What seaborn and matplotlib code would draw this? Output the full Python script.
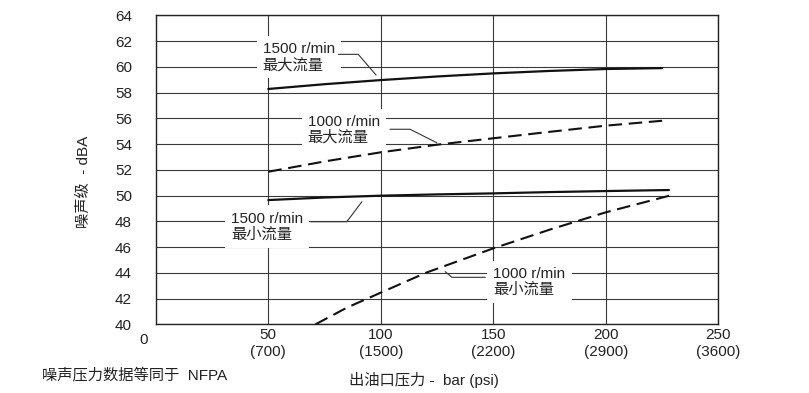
import numpy as np
import pandas as pd
import matplotlib
matplotlib.use('Agg')
import matplotlib.pyplot as plt
import seaborn as sns

# pressure (bar) and noise level (dBA)
x_1500_max = [50, 75, 100, 125, 150, 175, 200, 225]
y_1500_max = [58.28, 58.65, 58.97, 59.25, 59.49, 59.68, 59.83, 59.90]
x_1000_max = [50, 75, 100, 125, 150, 175, 200, 225]
y_1000_max = [51.85, 52.65, 53.36, 53.95, 54.45, 54.95, 55.43, 55.81]
x_1500_min = [50, 75, 100, 125, 150, 175, 200, 228]
y_1500_min = [49.65, 49.85, 49.99, 50.09, 50.17, 50.27, 50.35, 50.43]
x_1000_min = [71, 85, 100, 120, 150, 175, 200, 230]
y_1000_min = [40.0, 41.3, 42.46, 44.0, 45.9, 47.35, 48.7, 50.07]

xticks = [50, 100, 150, 200, 250]
xtick_labels = ['50\n(700)', '100\n(1500)', '150\n(2200)', '200\n(2900)', '250\n(3600)']
yticks = list(range(40, 65, 2))

sns.set_style('white')
plt.rcParams['font.family'] = ['Liberation Sans', 'Noto Sans CJK SC', 'DejaVu Sans']

fig = plt.figure(figsize=(8.09, 3.93), dpi=100)
ax = fig.add_axes([0.1925, 0.1748, 0.6955, 0.7862])

solid = dict(color='#111111', linewidth=1.6)
dashed = dict(color='#111111', linewidth=1.5, linestyle=(0, (6.5, 3.2)))

sns.lineplot(x=x_1500_max, y=y_1500_max, ax=ax, zorder=5, **solid)
sns.lineplot(x=x_1000_max, y=y_1000_max, ax=ax, zorder=5, **dashed)
sns.lineplot(x=x_1500_min, y=y_1500_min, ax=ax, zorder=5, **solid)
sns.lineplot(x=x_1000_min, y=y_1000_min, ax=ax, zorder=5, **dashed)

ax.set_xlim(0, 250)
ax.set_ylim(40, 64)
ax.set_xticks(xticks)
ax.set_xticklabels(xtick_labels, fontsize=11)
ax.set_yticks(yticks)
ax.set_yticklabels([str(v) for v in yticks], fontsize=11)
ax.tick_params(axis='both', length=0, colors='#222222')
ax.tick_params(axis='x', pad=3)
ax.tick_params(axis='y', pad=17)
ax.grid(True, color='#3a3a3a', linewidth=0.8)
ax.set_axisbelow(True)
for s in ax.spines.values():
    s.set_color('#222222')
    s.set_linewidth(1.0)

ax.annotate('0', xy=(0, 40), xytext=(-8.5, -11.5), textcoords='offset points',
            ha='center', va='center', fontsize=11, color='#222222', annotation_clip=False)

box = dict(boxstyle='square,pad=0.4', facecolor='white', edgecolor='none')
labels = [
    ('1500 r/min\n最大流量', 47.5, 60.75, [81.2, 90.0, 97.9], [60.97, 60.97, 59.36]),
    ('1000 r/min\n最大流量', 67.5, 55.1, [104.1, 113.0, 124.9], [55.15, 55.15, 54.10]),
    ('1500 r/min\n最小流量', 33.5, 47.6, [68.6, 84.9, 91.6], [47.97, 47.97, 49.52]),
    ('1000 r/min\n最小流量', 150.0, 43.3, [146.4, 131.6, 128.6], [43.65, 43.65, 44.09]),
]
for txt, tx, ty, lx, ly in labels:
    ax.text(tx, ty, txt, ha='left', va='center', fontsize=11, color='#222222',
            linespacing=1.15, bbox=box, zorder=3)
    ax.plot(lx, ly, color='#333333', linewidth=0.8, zorder=4)

fig.text(83.3 / 809, 1 - 181.5 / 393, '噪声级  - dBA', rotation=90, ha='center', va='center',
         fontsize=11, color='#222222')
fig.text(42.3 / 809, 1 - 375 / 393, '噪声压力数据等同于  NFPA', ha='left', va='center',
         fontsize=11, color='#222222')
fig.text(349.3 / 809, 1 - 380 / 393, '出油口压力 -  bar (psi)', ha='left', va='center',
         fontsize=11, color='#222222')

fig.savefig('out.png', dpi=100)
